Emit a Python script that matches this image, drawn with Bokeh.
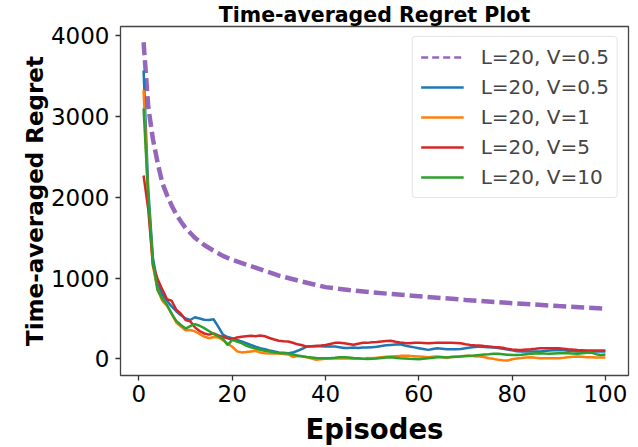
from bokeh.plotting import figure
from bokeh.models import Range1d, Legend, LegendItem, FixedTicker
from bokeh.embed import file_html
from bokeh.resources import INLINE

# ---------------- data ----------------
episodes = list(range(1, 101))
x_ticks = [0, 20, 40, 60, 80, 100]
y_ticks = [0, 1000, 2000, 3000, 4000]

bound_episodes = [1, 2, 3, 4, 5, 6, 7, 8, 9, 10, 12, 14, 16, 18, 20, 25, 30, 35,
                  40, 45, 50, 60, 70, 80, 90, 100]
bound_v05 = [3920, 3120, 2720, 2430, 2180, 2030, 1900, 1790, 1700, 1620, 1500, 1410,
             1340, 1275, 1225, 1129, 1031, 956, 888, 853, 822, 776, 730, 690, 654, 621]

regret_v05 = [3570, 2100, 1250, 930, 800, 720, 650, 590, 540, 500,
              481, 515, 500, 485, 480, 490, 400, 300, 270, 255,
              235, 215, 195, 172, 150, 132, 118, 104, 92, 80,
              75, 70, 78, 100, 125, 152, 156, 160, 156, 152,
              152, 152, 145, 135, 136, 140, 135, 140, 140, 145,
              150, 160, 168, 173, 178, 181, 165, 152, 142, 132,
              122, 111, 122, 132, 126, 119, 119, 119, 123, 132,
              140, 146, 152, 148, 144, 140, 133, 125, 115, 105,
              94, 91, 91, 91, 91, 91, 98, 103, 107, 111,
              105, 99, 96, 92, 91, 91, 91, 91, 91, 91]

regret_v1 = [3330, 1950, 1150, 860, 720, 660, 560, 450, 400, 355,
             358, 340, 310, 275, 255, 270, 265, 232, 190, 150,
             95, 80, 84, 92, 99, 78, 70, 66, 66, 66,
             60, 55, 24, 35, 28, 20, 5, -10, -5, 0,
             4, 8, 6, 4, 4, 2, 0, 0, 12, 8,
             15, 21, 25, 29, 33, 37, 37, 37, 33, 29,
             25, 21, 25, 29, 24, 17, 22, 27, 31, 35,
             37, 33, 29, 22, 8, 0, -12, -18, -21, -5,
             5, 10, 18, 21, 14, 8, 8, 8, 8, 8,
             14, 21, 25, 29, 25, 21, 20, 18, 17, 17]

regret_v5 = [2270, 1850, 1160, 990, 860, 740, 720, 610, 560, 480,
             465, 390, 345, 315, 300, 315, 290, 270, 255, 240,
             265, 275, 280, 285, 280, 288, 280, 258, 240, 225,
             218, 214, 200, 180, 168, 152, 155, 160, 165, 172,
             185, 198, 200, 193, 185, 175, 188, 200, 198, 205,
             210, 216, 222, 225, 212, 202, 196, 193, 198, 201,
             197, 193, 197, 201, 201, 201, 200, 196, 192, 182,
             173, 168, 165, 158, 152, 146, 145, 138, 124, 117,
             112, 110, 115, 119, 125, 132, 132, 132, 132, 132,
             126, 120, 115, 111, 108, 104, 103, 103, 103, 103]

regret_v10 = [3100, 2000, 1200, 850, 750, 670, 560, 470, 420, 375,
              405, 430, 410, 380, 345, 310, 280, 250, 170, 235,
              215, 194, 165, 142, 128, 112, 100, 91, 80, 71,
              68, 66, 55, 42, 32, 24, 18, 12, 8, 8,
              8, 14, 21, 19, 17, 12, 8, 0, -2, 0,
              5, 12, 18, 20, 14, 8, 4, 0, -2, -4,
              2, 8, 14, 20, 19, 17, 22, 27, 30, 34,
              37, 43, 49, 53, 57, 62, 62, 56, 50, 49,
              49, 52, 58, 62, 66, 70, 65, 62, 66, 70,
              70, 70, 66, 62, 70, 76, 78, 58, 49, 55]

labels = ["L=20, V=0.5", "L=20, V=0.5", "L=20, V=1", "L=20, V=5", "L=20, V=10"]
colors = ["#9467bd", "#1f77b4", "#ff7f0e", "#d62728", "#2ca02c"]

# ---------------- figure ----------------
p = figure(width=638, height=447, output_backend="svg", toolbar_location=None,
           title="Time-averaged Regret Plot",
           x_range=Range1d(-3.95, 104.95), y_range=Range1d(-206, 4115),
           min_border_left=120, min_border_right=10, min_border_top=26,
           min_border_bottom=71)
p.title.align = "center"
p.title.text_font = "DejaVu Sans"
p.title.text_font_size = "20.5px"
p.title.text_font_style = "bold"
p.title.text_color = "black"
p.title.standoff = 0
p.title.offset = 0

p.xgrid.visible = False
p.ygrid.visible = False
p.outline_line_color = "#444444"
p.outline_line_width = 1.3
p.background_fill_color = "white"
p.border_fill_color = "white"

for ax in (p.xaxis[0], p.yaxis[0]):
    ax.axis_line_color = None
    ax.major_tick_out = 5
    ax.major_tick_in = 0
    ax.minor_tick_line_color = None
    ax.major_tick_line_color = "#333333"
    ax.major_tick_line_width = 1.3
    ax.major_label_text_font = "DejaVu Sans"
    ax.major_label_text_font_size = "23px"
    ax.major_label_text_color = "black"
    ax.axis_label_text_font = "DejaVu Sans"
    ax.axis_label_text_font_style = "bold"
    ax.axis_label_text_color = "black"

p.xaxis.ticker = FixedTicker(ticks=x_ticks)
p.yaxis.ticker = FixedTicker(ticks=y_ticks)
p.xaxis.major_label_standoff = 4
p.yaxis.major_label_standoff = 6

p.yaxis.axis_label = "Time-averaged Regret"
p.yaxis.axis_label_text_font_size = "23px"
p.yaxis.axis_label_standoff = 0

p.xaxis.axis_label = "Episodes"
p.xaxis.axis_label_text_font_size = "27.5px"
p.xaxis.axis_label_standoff = 8

# ---------------- lines ----------------
r_bound = p.line(bound_episodes, bound_v05, line_color=colors[0], line_width=4.5,
                 line_dash="13 5", line_cap="butt")
r_bound_leg = p.line([float("nan")], [float("nan")], line_color=colors[0],
                     line_width=2.5, line_dash="7 4")
r1 = p.line(episodes, regret_v05, line_color=colors[1], line_width=2.5)
r2 = p.line(episodes, regret_v1, line_color=colors[2], line_width=2.5)
r3 = p.line(episodes, regret_v5, line_color=colors[3], line_width=2.5)
r4 = p.line(episodes, regret_v10, line_color=colors[4], line_width=2.5)

legend = Legend(items=[LegendItem(label=labels[0], renderers=[r_bound_leg]),
                       LegendItem(label=labels[1], renderers=[r1]),
                       LegendItem(label=labels[2], renderers=[r2]),
                       LegendItem(label=labels[3], renderers=[r3]),
                       LegendItem(label=labels[4], renderers=[r4])],
                location="top_right", margin=10, padding=8, spacing=6,
                label_text_font="DejaVu Sans", label_text_font_size="20px",
                glyph_width=43, glyph_height=20, label_height=20, label_standoff=17,
                border_line_color="#cccccc", border_line_width=1, border_radius=4,
                background_fill_color="white", background_fill_alpha=0.85)
p.add_layout(legend)

open("out.html", "w").write(file_html(p, INLINE))
